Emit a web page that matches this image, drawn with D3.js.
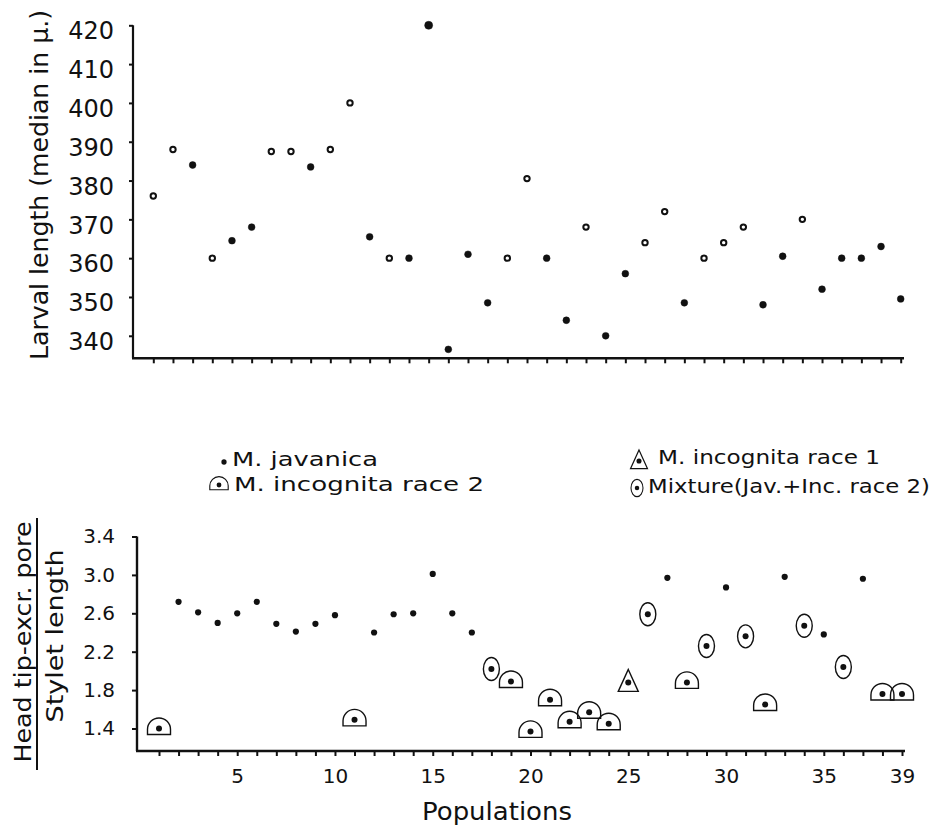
<!DOCTYPE html>
<html>
<head>
<meta charset="utf-8">
<script src="https://cdn.jsdelivr.net/npm/d3@7"></script>
<style>
  body { margin: 0; background: #fff; }
  text { font-family: "DejaVu Sans", sans-serif; fill: #111; }
</style>
</head>
<body>
<div id="chart"></div>
<script>
// populations 1..39
var populations = [1, 2, 3, 4, 5, 6, 7, 8, 9, 10, 11, 12, 13, 14, 15, 16, 17, 18, 19, 20,
  21, 22, 23, 24, 25, 26, 27, 28, 29, 30, 31, 32, 33, 34, 35, 36, 37, 38, 39];

// top panel: larval length (median, microns)
var larvalLength = [376, 388, 384, 360, 364.5, 368, 387.5, 387.5, 383.5, 388,
  400, 365.5, 360, 360, 420, 336.5, 361, 348.5, 360, 380.5,
  360, 344, 368, 340, 356, 364, 372, 348.5, 360, 364,
  368, 348, 360.5, 370, 352, 360, 360, 363, 349.5];
// "open" = ring, "solid" = filled dot
var larvalMark = ["open", "open", "solid", "open", "solid", "solid", "open", "open", "solid", "open",
  "open", "solid", "open", "solid", "solid", "solid", "solid", "solid", "open", "open",
  "solid", "solid", "open", "solid", "solid", "open", "open", "solid", "open", "open",
  "open", "solid", "solid", "open", "solid", "solid", "solid", "solid", "solid"];

// bottom panel: head tip - excr. pore / stylet length
var ratio = [1.40, 2.72, 2.61, 2.50, 2.60, 2.72, 2.49, 2.41, 2.49, 2.58,
  1.49, 2.40, 2.59, 2.60, 3.01, 2.60, 2.40, 2.02, 1.89, 1.37,
  1.70, 1.47, 1.57, 1.45, 1.88, 2.59, 2.97, 1.88, 2.26, 2.87,
  2.36, 1.65, 2.98, 2.47, 2.38, 2.04, 2.96, 1.76, 1.76];
// J = M. javanica, R1 = incognita race 1, R2 = incognita race 2, MX = mixture
var species = ["R2", "J", "J", "J", "J", "J", "J", "J", "J", "J",
  "R2", "J", "J", "J", "J", "J", "J", "MX", "R2", "R2",
  "R2", "R2", "R2", "R2", "R1", "MX", "J", "R2", "MX", "J",
  "MX", "R2", "J", "MX", "J", "MX", "J", "R2", "R2"];

var larvalTicks = [340, 350, 360, 370, 380, 390, 400, 410, 420];
var ratioTicks = [1.4, 1.8, 2.2, 2.6, 3.0, 3.4];
var popLabels = [5, 10, 15, 20, 25, 30, 35, 39];

var legendItems = [
  {key: "J", label: "M. javanica"},
  {key: "R2", label: "M. incognita race 2"},
  {key: "R1", label: "M. incognita race 1"},
  {key: "MX", label: "Mixture(Jav.+Inc. race 2)"}
];

var svgWidth = 938;
var svgHeight = 825;

var svg = d3.select("#chart")
  .append("svg")
  .attr("width", svgWidth)
  .attr("height", svgHeight)
  .style("background", "#fff");

var ink = "#111";

// ---------- TOP PANEL ----------
var xTop = d3.scaleLinear().domain([1, 39]).range([153.3, 900.7]);
var yTop = d3.scaleLinear().domain([334.2, 420]).range([358.3, 25.3]);

var topPanel = svg.append("g");

// axis lines
topPanel.append("line")
  .attr("x1", 133).attr("x2", 133)
  .attr("y1", yTop(420)).attr("y2", yTop(334.2))
  .attr("stroke", ink).attr("stroke-width", 2.2);
topPanel.append("line")
  .attr("x1", 132).attr("x2", 904)
  .attr("y1", yTop(334.2)).attr("y2", yTop(334.2))
  .attr("stroke", ink).attr("stroke-width", 2.6);

var topXAxis = topPanel.append("g")
  .attr("transform", `translate(0, ${yTop(334.2)})`)
  .call(d3.axisBottom(xTop).tickValues(populations).tickSize(5).tickSizeOuter(0).tickFormat(""));
topXAxis.select(".domain").remove();
topXAxis.selectAll("line").attr("stroke", ink).attr("stroke-width", 2);

var topYAxis = topPanel.append("g")
  .attr("transform", "translate(133, 0)")
  .call(d3.axisLeft(yTop).tickValues(larvalTicks).tickSize(4).tickPadding(15).tickSizeOuter(0));
topYAxis.select(".domain").remove();
topYAxis.selectAll("line").attr("stroke", ink).attr("stroke-width", 2);
topYAxis.selectAll("text")
  .attr("dy", "0.57em")
  .style("font-size", "24px")
  .style("font-family", "DejaVu Sans")
  .attr("fill", ink);

// y title
topPanel.append("text")
  .attr("transform", "translate(48, 185) rotate(-90)")
  .attr("text-anchor", "middle")
  .style("font-size", "24px")
  .attr("textLength", 350)
  .attr("lengthAdjust", "spacingAndGlyphs")
  .text("Larval length (median in μ.)");

// points
topPanel.selectAll(".lpt")
  .data(populations)
  .enter()
  .append("circle")
  .attr("class", "lpt")
  .attr("cx", d => xTop(d))
  .attr("cy", (d, i) => yTop(larvalLength[i]))
  .attr("r", (d, i) => larvalMark[i] == "open" ? 2.7 : (larvalLength[i] >= 420 ? 4 : 3.4))
  .attr("fill", (d, i) => larvalMark[i] == "open" ? "#fff" : ink)
  .attr("stroke", ink)
  .attr("stroke-width", (d, i) => larvalMark[i] == "open" ? 2 : 0.5);

// ---------- BOTTOM PANEL ----------
var xBot = d3.scaleLinear().domain([1, 39]).range([159, 902]);
var yBot = d3.scaleLinear().domain([1.4, 3.4]).range([728.5, 536.5]);
var yBotMin = yBot.invert(751);

var botPanel = svg.append("g");

botPanel.append("line")
  .attr("x1", 137).attr("x2", 137)
  .attr("y1", yBot(3.4)).attr("y2", yBot(yBotMin))
  .attr("stroke", ink).attr("stroke-width", 2.4);
botPanel.append("line")
  .attr("x1", 136).attr("x2", 905)
  .attr("y1", yBot(yBotMin)).attr("y2", yBot(yBotMin))
  .attr("stroke", ink).attr("stroke-width", 2.6);

var botXAxis = botPanel.append("g")
  .attr("transform", `translate(0, ${yBot(yBotMin)})`)
  .call(d3.axisBottom(xBot).tickValues(populations).tickSize(5).tickPadding(13).tickSizeOuter(0)
    .tickFormat(d => popLabels.includes(d) ? d : ""));
botXAxis.select(".domain").remove();
botXAxis.selectAll("line").attr("stroke", ink).attr("stroke-width", 2);
botXAxis.selectAll("text")
  .style("font-size", "20px")
  .style("font-family", "DejaVu Sans")
  .attr("fill", ink);

var botYAxis = botPanel.append("g")
  .attr("transform", "translate(137, 0)")
  .call(d3.axisLeft(yBot).tickValues(ratioTicks).tickSize(5).tickPadding(17).tickSizeOuter(0)
    .tickFormat(d3.format(".1f")));
botYAxis.select(".domain").remove();
botYAxis.selectAll("line").attr("stroke", ink).attr("stroke-width", 2);
botYAxis.selectAll("text")
  .style("font-size", "20px")
  .style("font-family", "DejaVu Sans")
  .attr("fill", ink);

// y title as a fraction
botPanel.append("text")
  .attr("transform", "translate(31, 642) rotate(-90)")
  .attr("text-anchor", "middle")
  .style("font-size", "23px")
  .attr("textLength", 241)
  .attr("lengthAdjust", "spacingAndGlyphs")
  .text("Head tip-excr. pore");
botPanel.append("line")
  .attr("x1", 37).attr("x2", 37)
  .attr("y1", 518).attr("y2", 770)
  .attr("stroke", ink).attr("stroke-width", 2);
botPanel.append("text")
  .attr("transform", "translate(63, 636) rotate(-90)")
  .attr("text-anchor", "middle")
  .style("font-size", "23px")
  .attr("textLength", 173)
  .attr("lengthAdjust", "spacingAndGlyphs")
  .text("Stylet length");

// x title
botPanel.append("text")
  .attr("x", 497)
  .attr("y", 820)
  .attr("text-anchor", "middle")
  .style("font-size", "24px")
  .attr("textLength", 150)
  .attr("lengthAdjust", "spacingAndGlyphs")
  .text("Populations");

// marker shapes, centred on the inner dot
function drawMarker(g, key) {
  if (key == "R2") {
    g.append("path")
      .attr("d", "M-11.5,6 L-11.5,1 A11.5,11.5 0 0 1 11.5,1 L11.5,6 Z")
      .attr("fill", "none").attr("stroke", ink).attr("stroke-width", 1.4);
  } else if (key == "MX") {
    g.append("ellipse")
      .attr("rx", 8).attr("ry", 11.5)
      .attr("fill", "none").attr("stroke", ink).attr("stroke-width", 1.4);
  } else if (key == "R1") {
    g.append("path")
      .attr("d", "M0,-13 L10,9 L-10,9 Z")
      .attr("fill", "none").attr("stroke", ink).attr("stroke-width", 1.4);
  }
  g.append("circle")
    .attr("r", key == "J" ? 3.1 : 3)
    .attr("fill", ink);
}

var marks = botPanel.selectAll(".rpt")
  .data(populations)
  .enter()
  .append("g")
  .attr("class", "rpt")
  .attr("transform", (d, i) => `translate(${xBot(d)}, ${yBot(ratio[i])})`);

marks.each(function(d, i) {
  drawMarker(d3.select(this), species[i]);
});

// ---------- LEGEND ----------
var legendPos = {
  J:  {mx: 224, my: 462, tx: 232, ty: 466, len: 146, s: 0.85},
  R2: {mx: 219, my: 485, tx: 234, ty: 491, len: 250, s: 0.8},
  R1: {mx: 639, my: 461, tx: 658, ty: 464, len: 222, s: 0.85},
  MX: {mx: 637, my: 488, tx: 648, ty: 493, len: 282, s: 0.75}
};

var legend = svg.append("g");
legendItems.forEach(function(item) {
  var p = legendPos[item.key];
  var m = legend.append("g")
    .attr("transform", `translate(${p.mx}, ${p.my}) scale(${p.s})`);
  drawMarker(m, item.key);
  legend.append("text")
    .attr("x", p.tx)
    .attr("y", p.ty)
    .style("font-size", "19px")
    .attr("textLength", p.len)
    .attr("lengthAdjust", "spacingAndGlyphs")
    .text(item.label);
});
</script>
</body>
</html>
